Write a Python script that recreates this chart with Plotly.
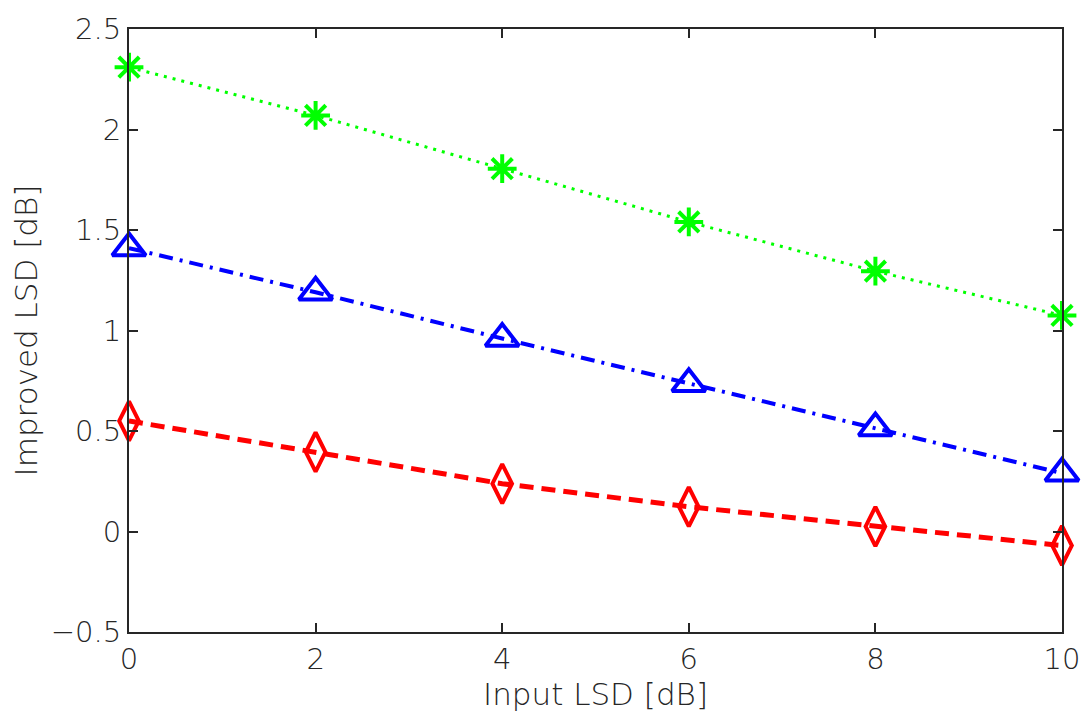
import plotly.graph_objects as go

# Input LSD levels (dB)
input_lsd = [0, 2, 4, 6, 8, 10]

# Improved LSD (dB) for each method
improved_star = [2.31, 2.07, 1.805, 1.54, 1.295, 1.075]
improved_tri = [1.41, 1.19, 0.96, 0.735, 0.515, 0.29]
improved_dia = [0.55, 0.395, 0.238, 0.123, 0.025, -0.07]

x_ticks = [0, 2, 4, 6, 8, 10]
y_ticks = [-0.5, 0, 0.5, 1, 1.5, 2, 2.5]
y_tick_text = ["\u22120.5", "0", "0.5", "1", "1.5", "2", "2.5"]

FONT = "DejaVu Sans"
TEXT_COLOR = "#262626"

fig = go.Figure()

fig.add_trace(go.Scatter(
    x=input_lsd, y=improved_star, mode="lines+markers",
    line=dict(color="#00ff00", width=3, dash="3px,6px"),
    marker=dict(symbol="asterisk-open", size=24, color="#00ff00",
                line=dict(color="#00ff00", width=4)),
    showlegend=False, cliponaxis=False,
))
fig.add_trace(go.Scatter(
    x=input_lsd, y=improved_tri, mode="lines+markers",
    line=dict(color="#0000ff", width=4, dash="14px,7px,3px,7px"),
    marker=dict(symbol="triangle-up-open", size=29, color="#0000ff",
                line=dict(color="#0000ff", width=4)),
    showlegend=False, cliponaxis=False,
))
fig.add_trace(go.Scatter(
    x=input_lsd, y=improved_dia, mode="lines+markers",
    line=dict(color="#ff0000", width=5, dash="14px,8px"),
    marker=dict(symbol="diamond-tall-open", size=28, color="#ff0000",
                line=dict(color="#ff0000", width=4)),
    showlegend=False, cliponaxis=False,
))

tick_font = dict(family=FONT, size=29, color=TEXT_COLOR, weight=200)
title_font = dict(family=FONT, size=31, color=TEXT_COLOR, weight=200)

axis_common = dict(
    showline=True, linecolor=TEXT_COLOR, linewidth=2, mirror="allticks",
    ticks="inside", ticklen=9, tickwidth=1.5, tickcolor=TEXT_COLOR,
    showgrid=False, zeroline=False,
    tickfont=tick_font,
)

fig.update_xaxes(
    range=[0, 10], tickvals=x_ticks, ticktext=[str(v) for v in x_ticks],
    title=dict(text="Input LSD [dB]", font=title_font, standoff=4),
    **axis_common,
)
fig.update_yaxes(
    range=[-0.5, 2.5], tickvals=y_ticks, ticktext=y_tick_text,
    title=dict(text="Improved LSD [dB]", font=title_font, standoff=4),
    **axis_common,
)

fig.update_layout(
    width=1092, height=725,
    margin=dict(l=129, r=23, t=29, b=93),
    plot_bgcolor="white", paper_bgcolor="white",
)

fig.write_html("out.html")
